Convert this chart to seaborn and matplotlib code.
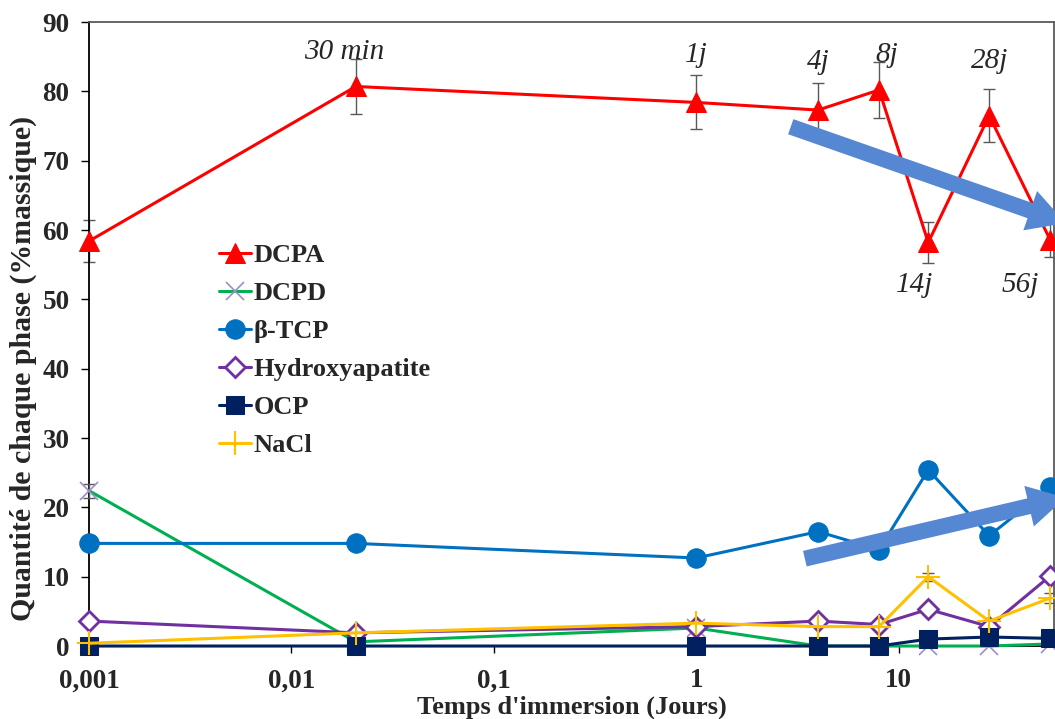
import numpy as np
import pandas as pd
from matplotlib import pyplot as plt
from matplotlib.ticker import FixedLocator, FixedFormatter, NullLocator
import seaborn as sns

# Immersion times (days) and labels
temps = [0.001, 0.0208, 1, 4, 8, 14, 28, 56]
etiquettes = ['', '30 min', '1j', '4j', '8j', '14j', '28j', '56j']

# Phase amounts (% massique)
dcpa = [58.4, 80.7, 78.4, 77.3, 80.2, 58.2, 76.5, 58.6]
dcpa_err = [3.0, 4.0, 3.9, 3.9, 4.0, 2.9, 3.8, 2.5]
dcpd = [22.4, 0.6, 2.6, 0.0, 0.0, 0.0, 0.0, 0.3]
dcpd_err = [1.0, 0, 0, 0, 0, 0, 0, 0]
btcp = [14.8, 14.8, 12.7, 16.5, 13.9, 25.4, 15.9, 22.9]
btcp_err = [0, 0, 0, 0, 0, 1.0, 0, 0]
hap = [3.6, 1.9, 2.8, 3.6, 3.1, 5.3, 2.8, 10.1]
hap_err = [0.5, 0, 0, 0, 0, 0.6, 0, 0.7]
ocp = [0.0, 0.0, 0.0, 0.0, 0.0, 1.0, 1.3, 1.1]
nacl = [0.4, 1.9, 3.3, 2.8, 2.8, 10.0, 3.6, 6.9]
nacl_err = [0, 0, 0, 0, 0, 0.6, 0, 0.7]

xticks = [0.001, 0.01, 0.1, 1, 10]
xticklabels = ['0,001', '0,01', '0,1', '1', '10']
yticks = [0, 10, 20, 30, 40, 50, 60, 70, 80, 90]

sns.set_style('white')
plt.rcParams['font.family'] = ['Liberation Serif', 'DejaVu Serif']

fig = plt.figure(figsize=(10.55, 7.19), dpi=100)
ax = fig.add_axes([0.0844, 0.1015, 0.9146, 0.8679])

series = [
    ('DCPA', dcpa, dcpa_err, dict(color='#FF0000', marker='^', markersize=15, mfc='#FF0000', mec='#FF0000')),
    ('DCPD', dcpd, dcpd_err, dict(color='#00B050', marker='x', markersize=13, mfc='#9C8FC8', mec='#9C8FC8', mew=1.2)),
    ('β-TCP', btcp, btcp_err, dict(color='#0070C0', marker='o', markersize=14, mfc='#0070C0', mec='#0070C0')),
    ('Hydroxyapatite', hap, hap_err, dict(color='#7030A0', marker='D', markersize=10, mfc='white', mec='#7030A0', mew=2)),
    ('OCP', ocp, None, dict(color='#002060', marker='s', markersize=13, mfc='#002060', mec='#002060')),
    ('NaCl', nacl, nacl_err, dict(color='#FFC000', marker='+', markersize=17, mfc='#FFC000', mec='#FFC000', mew=1.5)),
]

for z, (nom, vals, err, style) in enumerate(series):
    df = pd.DataFrame({'temps': temps, 'val': vals})
    sns.lineplot(data=df, x='temps', y='val', ax=ax, label=nom, linewidth=2.2,
                 clip_on=False, zorder=3 + z, **style)
    if err is not None:
        e = np.array(err)
        m = e > 0
        ax.errorbar(np.array(temps)[m], np.array(vals)[m], yerr=e[m], fmt='none',
                    ecolor='#595959', elinewidth=1, capsize=4, capthick=1,
                    zorder=2 + z, clip_on=False)

ax.set_xscale('log')
ax.set_xlim(0.001, 58.5)
ax.set_ylim(0, 90)
ax.xaxis.set_major_locator(FixedLocator(xticks))
ax.xaxis.set_major_formatter(FixedFormatter(xticklabels))
ax.xaxis.set_minor_locator(NullLocator())
ax.set_yticks(yticks)
ax.tick_params(axis='both', which='major', labelsize=19.5, direction='out',
               width=1, color='black', bottom=True, left=True)
ax.tick_params(axis='x', length=5, pad=11)
ax.tick_params(axis='y', length=6, pad=8)
for lab in ax.get_xticklabels() + ax.get_yticklabels():
    lab.set_fontweight('bold')

ax.set_xlabel("Temps d'immersion (Jours)", fontsize=19, fontweight='bold')
ax.set_ylabel('Quantité de chaque phase (%massique)', fontsize=21.5, fontweight='bold')
ax.xaxis.set_label_coords(0.50, -0.080)
ax.yaxis.set_label_coords(-0.054, 0.445)

for side in ['left', 'bottom']:
    ax.spines[side].set_color('black')
    ax.spines[side].set_linewidth(1.3)
for side in ['top', 'right']:
    ax.spines[side].set_color('#595959')
    ax.spines[side].set_linewidth(1.3)

# Time labels near the DCPA points: (vertical offset, horizontal factor)
decal = {'30 min': (5.0, 0.88), '1j': (6.9, 1.0), '4j': (7.0, 1.0), '8j': (5.1, 1.095),
         '14j': (-6.1, 0.853), '28j': (7.9, 1.0), '56j': (-6.5, 0.71)}
for t, v, lab in zip(temps, dcpa, etiquettes):
    if not lab:
        continue
    dy, fx = decal[lab]
    ax.text(t * fx, v + dy, lab, fontsize=21, style='italic', ha='center',
            va='center', zorder=20)

# Trend arrows
fleches = [((2.93, 74.9), (66.8, 61.0)), ((3.44, 12.6), (66.8, 21.4))]
for debut, fin in fleches:
    ax.annotate('', xy=fin, xytext=debut, annotation_clip=False,
                arrowprops=dict(width=11.5, headwidth=30, headlength=27, shrink=0,
                                color='#5687D2', lw=0),
                zorder=30)

leg = ax.legend(loc='upper left', bbox_to_anchor=(0.135, 0.645), frameon=False,
                fontsize=19, handlelength=1.2, handletextpad=0.1, labelspacing=0.55,
                borderaxespad=0, borderpad=0)
for txt in leg.get_texts():
    txt.set_fontweight('bold')

plt.savefig('out.png', dpi=100)
